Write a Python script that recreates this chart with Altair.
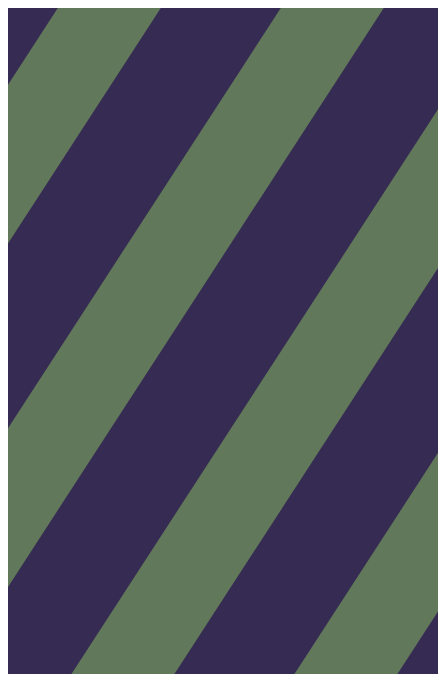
import altair as alt
import pandas as pd

PURPLE = "#362B52"
GREEN = "#61785A"

# Reference-pixel x where each green band's left edge meets the top edge
green_left_at_top = [63, 286, 509, 732]
# horizontal width of a green band
green_band_width = [103, 103, 103, 103]
# horizontal drift of a band edge (px to the left per px down)
drift = 446 / 687
# sample x positions for each band polygon
sample_x = [-80, 560]

rows = []
for i, (a, w) in enumerate(zip(green_left_at_top, green_band_width)):
    for x in sample_x:
        rows.append({
            "band": f"b{i}",
            "x": float(x),
            "y_top": (a - x) / drift,
            "y_bot": (a + w - x) / drift,
        })
df = pd.DataFrame(rows)

# the page has an 8px margin: show the reference region starting at (8, 8)
W, H = 430, 666
chart = (
    alt.Chart(df)
    .mark_area(color=GREEN, opacity=1)
    .encode(
        x=alt.X("x:Q", axis=None, scale=alt.Scale(domain=[8, 8 + W], nice=False, zero=False)),
        y=alt.Y("y_top:Q", axis=None, scale=alt.Scale(domain=[8 + H, 8], nice=False, zero=False)),
        y2=alt.Y2("y_bot:Q"),
        detail=alt.Detail("band:N"),
    )
    .properties(width=W, height=H, padding=0, autosize="none", background=PURPLE)
    .configure_view(strokeWidth=0, fill=PURPLE)
)

chart.save("out.html", embed_options={"renderer": "svg", "actions": False})
